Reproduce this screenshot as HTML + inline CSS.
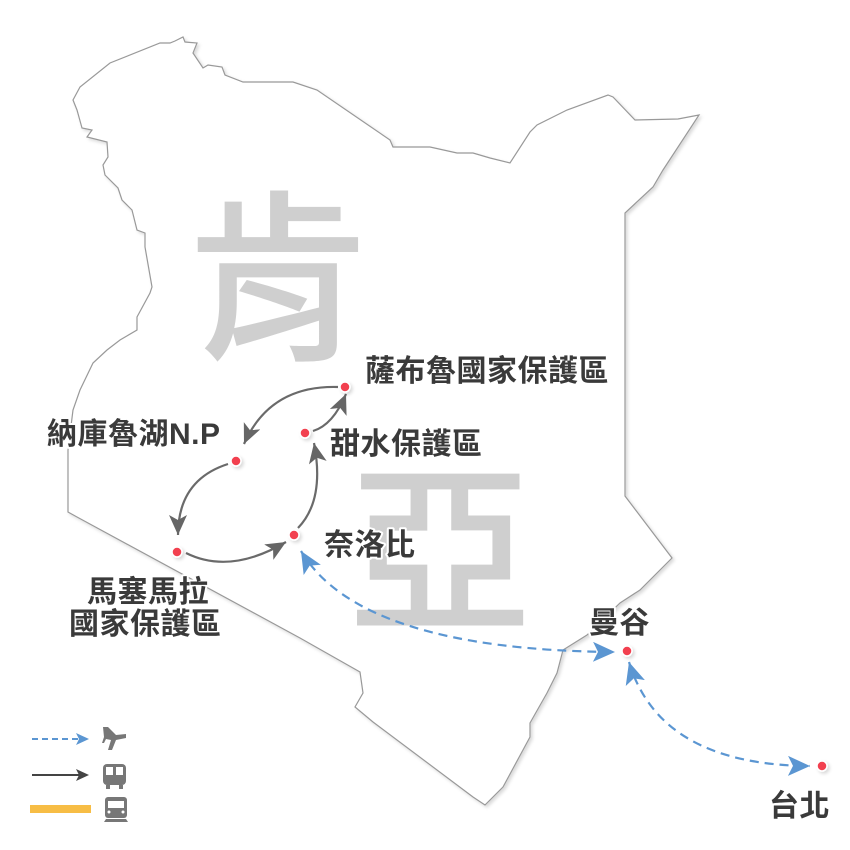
<!DOCTYPE html>
<html><head><meta charset="utf-8"><style>
html,body{margin:0;padding:0;background:#fff}
svg{display:block}
.lb{font-family:"Liberation Sans","Noto Sans CJK TC",sans-serif;font-weight:bold;font-size:30px;letter-spacing:0.5px;fill:#3a3a3a;stroke:#fff;stroke-width:4px;paint-order:stroke;stroke-linejoin:round}
.big{font-family:"Noto Sans CJK TC",sans-serif;font-weight:500;font-size:184px;fill:#cfcfcf}
</style></head><body>
<svg width="850" height="850" viewBox="0 0 850 850" xmlns="http://www.w3.org/2000/svg">
<defs>
<marker id="ga" markerUnits="userSpaceOnUse" markerWidth="24" markerHeight="20" refX="20" refY="9" orient="auto"><path d="M0,0 L20,9 L0,18 L5,9 Z" fill="#666"/></marker>
<marker id="ba" markerUnits="userSpaceOnUse" markerWidth="26" markerHeight="22" refX="22" refY="10" orient="auto"><path d="M0,0 L22,10 L0,20 L5,10 Z" fill="#5b96d2"/></marker>
<marker id="bs" markerUnits="userSpaceOnUse" markerWidth="26" markerHeight="22" refX="22" refY="10" orient="auto-start-reverse"><path d="M0,0 L22,10 L0,20 L5,10 Z" fill="#5b96d2"/></marker>
<filter id="sh" x="-5%" y="-5%" width="110%" height="110%"><feDropShadow dx="2" dy="2" stdDeviation="1.5" flood-color="#000" flood-opacity="0.15"/></filter>
</defs>
<path filter="url(#sh)" fill="#fff" stroke="#999" stroke-width="1.2" d="M73,100 L77,110 L82,128 L92,130 L87,137 L107,142 L108,157 L103,165 L105,175 L118,188 L122,200 L132,210 L137,230 L145,233 L145,247 L152,287 L150,293 L137,317 L137,330 L120,340 L107,350 L93,363 L80,390 L73,410 L68,450 L68,483 L68,512 L77,517 L300,638 L360,672 L363,693 L355,707 L373,722 L473,797 L485,805 L503,787 L530,737 L530,723 L547,693 L557,673 L563,650 L587,635 L620,603 L640,590 L672,558 L625,496 L625,213 L653,187 L663,170 L699,115 L678,119 L635,120 L613,97 L608,95 L567,110 L537,125 L530,132 L510,163 L490,158 L473,153 L457,153 L430,147 L393,147 L390,140 L317,90 L293,82 L243,82 L225,75 L222,67 L208,65 L203,68 L193,53 L197,43 L185,42 L183,37 L175,41 L170,43 L160,43 L110,63 L80,87 Z"/>
<text class="big" x="186" y="346">肯</text>
<text class="big" x="348" y="618">亞</text>
<g fill="none" stroke="#6a6a6a" stroke-width="2.2">
<path d="M338,387 Q270,385 244,444" marker-end="url(#ga)"/>
<path d="M228,464 Q178,480 178,535" marker-end="url(#ga)"/>
<path d="M186,553 Q230,575 286,542" marker-end="url(#ga)"/>
<path d="M298,528 Q325,500 314,443" marker-end="url(#ga)"/>
<path d="M313,431 Q333,425 346,394" marker-end="url(#ga)"/>
</g>
<g fill="none" stroke="#5b96d2" stroke-width="2.2" stroke-dasharray="9,6">
<path d="M301,551 Q360,650 615,652" marker-start="url(#bs)" marker-end="url(#ba)"/>
<path d="M629,662 Q660,765 810,766" marker-start="url(#bs)" marker-end="url(#ba)"/>
</g>
<g fill="#f2414f" stroke="#fff" stroke-width="1.5" filter="url(#sh)">
<circle cx="345" cy="387" r="5"/><circle cx="305" cy="433" r="5"/><circle cx="236" cy="461" r="5"/>
<circle cx="177" cy="552" r="5"/><circle cx="294" cy="535" r="5"/><circle cx="627" cy="651" r="5"/><circle cx="822" cy="766" r="5"/>
</g>
<text class="lb" x="365" y="381">薩布魯國家保護區</text>
<text class="lb" x="330" y="454">甜水保護區</text>
<text class="lb" x="47" y="444">納庫魯湖N.P</text>
<text class="lb" x="324" y="555">奈洛比</text>
<text class="lb" x="87" y="602">馬塞馬拉</text>
<text class="lb" x="69" y="634">國家保護區</text>
<text class="lb" x="589" y="633">曼谷</text>
<text class="lb" x="769" y="816">台北</text>
<!-- legend -->
<path d="M32,739 L80,739" stroke="#5b96d2" stroke-width="2" stroke-dasharray="6,4" fill="none"/>
<path d="M76,733 L89,739 L76,745 L79,739 Z" fill="#5b96d2"/>
<path d="M32,775 L80,775" stroke="#444" stroke-width="2" fill="none"/>
<path d="M76,769 L89,775 L76,781 L79,775 Z" fill="#444"/>
<rect x="30" y="805" width="61" height="8" fill="#f7bd45"/>
<g fill="#777">
<path d="M103,727 L108,727 L116,735 L126,734 L126,738 L116,740 L112,750 L108,750 L111,740 L106,739 L104,743 L102,743 L104,737 Z"/>
<rect x="103" y="764" width="23" height="21" rx="4"/>
<rect x="106" y="785" width="4" height="4"/><rect x="119" y="785" width="4" height="4"/>
<rect x="105" y="797" width="22" height="21" rx="3"/>
<path d="M104,822 L128,822 L126,819 L106,819 Z"/>
</g>
<g fill="#fff">
<rect x="106" y="767" width="7" height="8"/><rect x="116" y="767" width="7" height="8"/>
<rect x="108" y="801" width="16" height="7"/>
<circle cx="109" cy="812" r="1.5"/><circle cx="123" cy="812" r="1.5"/>
</g>
</svg>
</body></html>
